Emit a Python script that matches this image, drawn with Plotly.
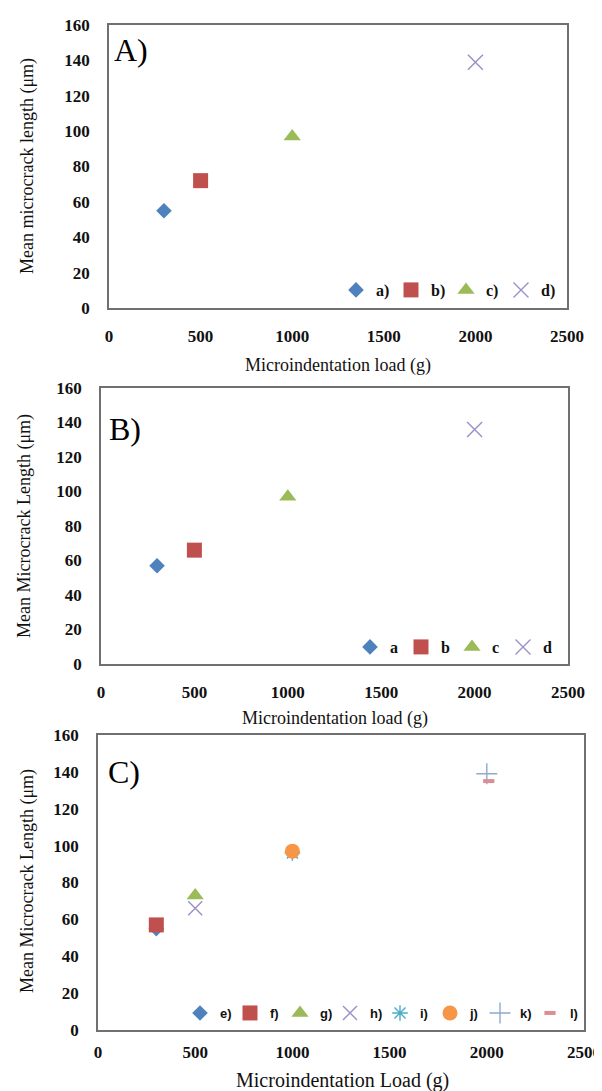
import plotly.graph_objects as go

W, H = 602, 1091

# ---------------- data ----------------
load_a = [300, 500, 1000, 2000]
len_a = [55, 72, 97, 139]
names_a = ["a)", "b)", "c)", "d)"]

load_b = [300, 500, 1000, 2000]
len_b = [57, 66, 97, 136]
names_b = ["a", "b", "c", "d"]

load_c = [300, 300, 500, 500, 1000, 1000, 2000, 2010]
len_c = [55, 57, 73, 66, 96, 97, 139, 135]
names_c = ["e)", "f)", "g)", "h)", "i)", "j)", "k)", "l)"]

x_ticks = [0, 500, 1000, 1500, 2000, 2500]
y_ticks = [0, 20, 40, 60, 80, 100, 120, 140, 160]

# ---------------- styles ----------------
BLUE, RED, GREEN, PURPLE = "#4F81BD", "#C0504D", "#9BBB59", "#9A8FC6"
AQUA, ORANGE, LBLUE, PINK = "#4BACC6", "#F79646", "#8FA9D0", "#D98F93"

style4 = [
    dict(symbol="diamond", color=BLUE, size=12),
    dict(symbol="square", color=RED, size=15),
    dict(symbol="triangle-up", color=GREEN, size=15),
    dict(symbol="x-thin", color=PURPLE, size=15, line=dict(color=PURPLE, width=1.4)),
]
style8 = [
    dict(symbol="diamond", color=BLUE, size=12),
    dict(symbol="square", color=RED, size=15),
    dict(symbol="triangle-up", color=GREEN, size=15),
    dict(symbol="x-thin", color=PURPLE, size=14, line=dict(color=PURPLE, width=1.4)),
    dict(symbol="asterisk", color=AQUA, size=13, line=dict(color=AQUA, width=1.4)),
    dict(symbol="circle", color=ORANGE, size=15),
    dict(symbol="cross-thin", color=LBLUE, size=15, line=dict(color=LBLUE, width=1.4)),
    dict(symbol="line-ew", color=PINK, size=8, line=dict(color=PINK, width=4)),
]

def px(x):
    return x / W

def py(y):
    return (H - y) / H

fig = go.Figure()

panels = [
    ("x", "y", "legend", load_a, len_a, names_a, style4),
    ("x2", "y2", "legend2", load_b, len_b, names_b, style4),
    ("x3", "y3", "legend3", load_c, len_c, names_c, style8),
]
for xa, ya, lg, xs, ys, nms, sty in panels:
    for i in range(len(xs)):
        fig.add_trace(go.Scatter(
            x=[xs[i]], y=[ys[i]], name=nms[i], mode="markers",
            marker=sty[i], xaxis=xa, yaxis=ya, legend=lg, cliponaxis=False,
        ))

# plot areas in pixels: (left, right, top, bottom)
areas = [(101, 559, 17, 300), (93, 560, 380, 656), (90, 576, 727, 1022)]
x_standoff = [12, 12, 6]

tickfont = dict(family="Liberation Serif", size=17, color="#111", weight="bold")
axis_common = dict(showgrid=False, zeroline=False, showline=True, mirror=True,
                   linecolor="#707070", linewidth=1.5, ticks="", tickfont=tickfont,
                   automargin=False)

layout_axes = {}
for k, (l, r, t, b) in enumerate(areas):
    sx = "" if k == 0 else str(k + 1)
    layout_axes["xaxis" + sx] = dict(axis_common, domain=[px(l), px(r)], range=[0, 2500],
                                     tickvals=x_ticks, anchor="y" + sx,
                                     ticklabelstandoff=x_standoff[k])
    layout_axes["yaxis" + sx] = dict(axis_common, domain=[py(b), py(t)], range=[0, 160],
                                     tickvals=y_ticks, anchor="x" + sx,
                                     ticklabelstandoff=14)

ann = []
titlefont = dict(family="Liberation Serif", size=18, color="#111")
# axis titles
ann.append(dict(text="Microindentation load (g)", x=px(330), y=py(357), font=titlefont))
ann.append(dict(text="Microindentation load (g)", x=px(327), y=py(711), font=titlefont))
ann.append(dict(text="Microindentation Load (g)", x=px(334), y=py(1072),
                font=dict(titlefont, size=20)))
ann.append(dict(text="Mean microcrack length (μm)", x=px(19), y=py(158), textangle=-90,
                font=titlefont))
ann.append(dict(text="Mean Microcrack Length (μm)", x=px(16), y=py(518), textangle=-90,
                font=titlefont))
ann.append(dict(text="Mean Microcrack Length (μm)", x=px(19), y=py(873), textangle=-90,
                font=titlefont))
# panel labels
letter = dict(family="Liberation Serif", size=32, color="#000")
ann.append(dict(text="A)", x=px(104), y=py(42), xanchor="left", font=letter))
ann.append(dict(text="B)", x=px(99), y=py(421), xanchor="left", font=letter))
ann.append(dict(text="C)", x=px(98), y=py(764), xanchor="left", font=letter))
for a in ann:
    a.update(xref="paper", yref="paper", showarrow=False)
    a.setdefault("xanchor", "center")
    a.setdefault("yanchor", "middle")

leg_common = dict(orientation="h", xanchor="right", yanchor="middle",
                  bgcolor="rgba(0,0,0,0)", borderwidth=0, itemwidth=30,
                  entrywidthmode="pixels", tracegroupgap=0)

fig.update_layout(
    width=W, height=H, margin=dict(l=0, r=0, t=0, b=0),
    paper_bgcolor="white", plot_bgcolor="white", showlegend=True,
    annotations=ann,
    legend=dict(leg_common, x=px(548), y=py(282), entrywidth=10,
                font=dict(family="Liberation Serif", size=16, color="#111", weight="bold")),
    legend2=dict(leg_common, x=px(546), y=py(639), entrywidth=6,
                 font=dict(family="Liberation Serif", size=16, color="#111", weight="bold")),
    legend3=dict(leg_common, x=px(572), y=py(1005), entrywidth=5,
                 font=dict(family="Liberation Sans", size=13, color="#111", weight="bold")),
    **layout_axes,
)

fig.write_html("out.html")
